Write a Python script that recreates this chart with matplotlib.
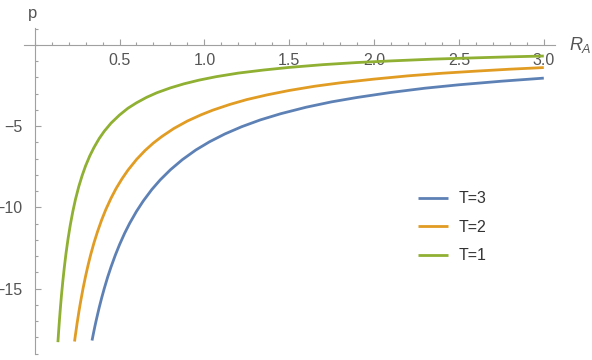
import matplotlib
matplotlib.use("Agg")
import matplotlib.pyplot as plt
from matplotlib.ticker import MultipleLocator, FixedLocator

plt.rcParams["font.family"] = ["Liberation Sans", "DejaVu Sans"]
plt.rcParams["mathtext.fontset"] = "custom"
plt.rcParams["mathtext.it"] = "Liberation Sans:italic"
plt.rcParams["mathtext.rm"] = "Liberation Sans"

# values (R_A, p)
r_t1 = [0.137, 0.141, 0.146, 0.152, 0.158, 0.166, 0.175, 0.185, 0.197, 0.21,
        0.225, 0.24, 0.26, 0.28, 0.30, 0.325, 0.35, 0.38, 0.41, 0.45, 0.5,
        0.55, 0.6, 0.66, 0.72, 0.8, 0.88, 0.97, 1.07, 1.2, 1.35, 1.5, 1.7,
        1.9, 2.1, 2.35, 2.6, 2.8, 3.0]
p_t1 = [-18.3, -17.67, -16.94, -16.14, -15.41, -14.54, -13.67, -12.81, -11.92,
        -11.08, -10.25, -9.53, -8.72, -8.04, -7.45, -6.83, -6.31, -5.77,
        -5.32, -4.82, -4.32, -3.90, -3.57, -3.23, -2.95, -2.65, -2.40, -2.17,
        -1.96, -1.74, -1.55, -1.39, -1.22, -1.09, -0.99, -0.88, -0.80, -0.74,
        -0.69]

r_t2 = [0.235, 0.24, 0.25, 0.26, 0.27, 0.285, 0.3, 0.315, 0.33, 0.35, 0.37,
        0.395, 0.42, 0.45, 0.48, 0.515, 0.55, 0.6, 0.65, 0.7, 0.75, 0.82, 0.9,
        0.98, 1.05, 1.15, 1.25, 1.37, 1.5, 1.65, 1.8, 2.0, 2.2, 2.4, 2.6, 2.8,
        3.0]
p_t2 = [-18.26, -17.87, -17.14, -16.47, -15.85, -15.0, -14.24, -13.55, -12.92,
        -12.17, -11.51, -10.77, -10.12, -9.44, -8.84, -8.24, -7.71, -7.06,
        -6.51, -6.04, -5.64, -5.15, -4.69, -4.31, -4.02, -3.67, -3.37, -3.08,
        -2.81, -2.55, -2.34, -2.11, -1.91, -1.75, -1.62, -1.50, -1.40]

r_t3 = [0.338, 0.345, 0.355, 0.365, 0.38, 0.395, 0.41, 0.43, 0.45, 0.475, 0.5,
        0.53, 0.56, 0.6, 0.64, 0.69, 0.74, 0.8, 0.87, 0.95, 1.03, 1.12, 1.22,
        1.33, 1.45, 1.6, 1.75, 1.9, 2.1, 2.3, 2.5, 2.75, 3.0]
p_t3 = [-18.2, -17.83, -17.32, -16.85, -16.18, -15.57, -15.0, -14.3, -13.67,
        -12.95, -12.3, -11.6, -10.98, -10.25, -9.61, -8.91, -8.31, -7.69,
        -7.07, -6.47, -5.97, -5.49, -5.04, -4.62, -4.24, -3.84, -3.51, -3.24,
        -2.93, -2.67, -2.46, -2.24, -2.05]

series = [("T=3", r_t3, p_t3, "#5E81B5"),
          ("T=2", r_t2, p_t2, "#E19C24"),
          ("T=1", r_t1, p_t1, "#8FB032")]

x_ticks = [0.5, 1.0, 1.5, 2.0, 2.5, 3.0]
y_ticks = [-5, -10, -15]

fig = plt.figure(figsize=(5.92, 3.6), dpi=100)
ax = fig.add_axes([0.0405, 0.018, 0.897, 0.904])

for label, r, p, color in series:
    ax.plot(r, p, color=color, lw=2.0, label=label, solid_capstyle="butt")

ax.set_xlim(-0.063, 3.066)
ax.set_ylim(-19.0, 1.03)

axis_grey = "#a0a0a0"
for side in ("top", "right"):
    ax.spines[side].set_visible(False)
ax.spines["left"].set_position(("data", 0))
ax.spines["bottom"].set_position(("data", 0))
for side in ("left", "bottom"):
    ax.spines[side].set_color(axis_grey)
    ax.spines[side].set_linewidth(0.8)

ax.xaxis.set_major_locator(FixedLocator(x_ticks))
ax.xaxis.set_minor_locator(MultipleLocator(0.1))
ax.yaxis.set_major_locator(FixedLocator(y_ticks))
ax.yaxis.set_minor_locator(MultipleLocator(1))
ax.set_xticklabels([f"{v:.1f}" for v in x_ticks])
ax.set_yticklabels([f"\u2212{abs(v)}" for v in y_ticks])

ax.tick_params(which="both", direction="in", color=axis_grey, width=0.8,
               labelcolor="#555555", labelsize=11.5)
ax.tick_params(which="major", length=4)
ax.tick_params(which="minor", length=2.5)
ax.tick_params(axis="x", pad=6)
ax.tick_params(axis="y", pad=9)

ax.text(-0.01, 1.95, "p", ha="center", va="center", fontsize=12,
        color="#555555", clip_on=False)
ax.text(3.15, 0.0, "$R_A$", ha="left", va="center", fontsize=13,
        color="#555555", clip_on=False)

ax.legend(loc="upper left", bbox_to_anchor=(0.714, 0.543), frameon=False,
          fontsize=11.5, handlelength=1.9, handletextpad=0.7,
          labelspacing=0.85, labelcolor="#333333")

fig.savefig("out.png", dpi=100)
